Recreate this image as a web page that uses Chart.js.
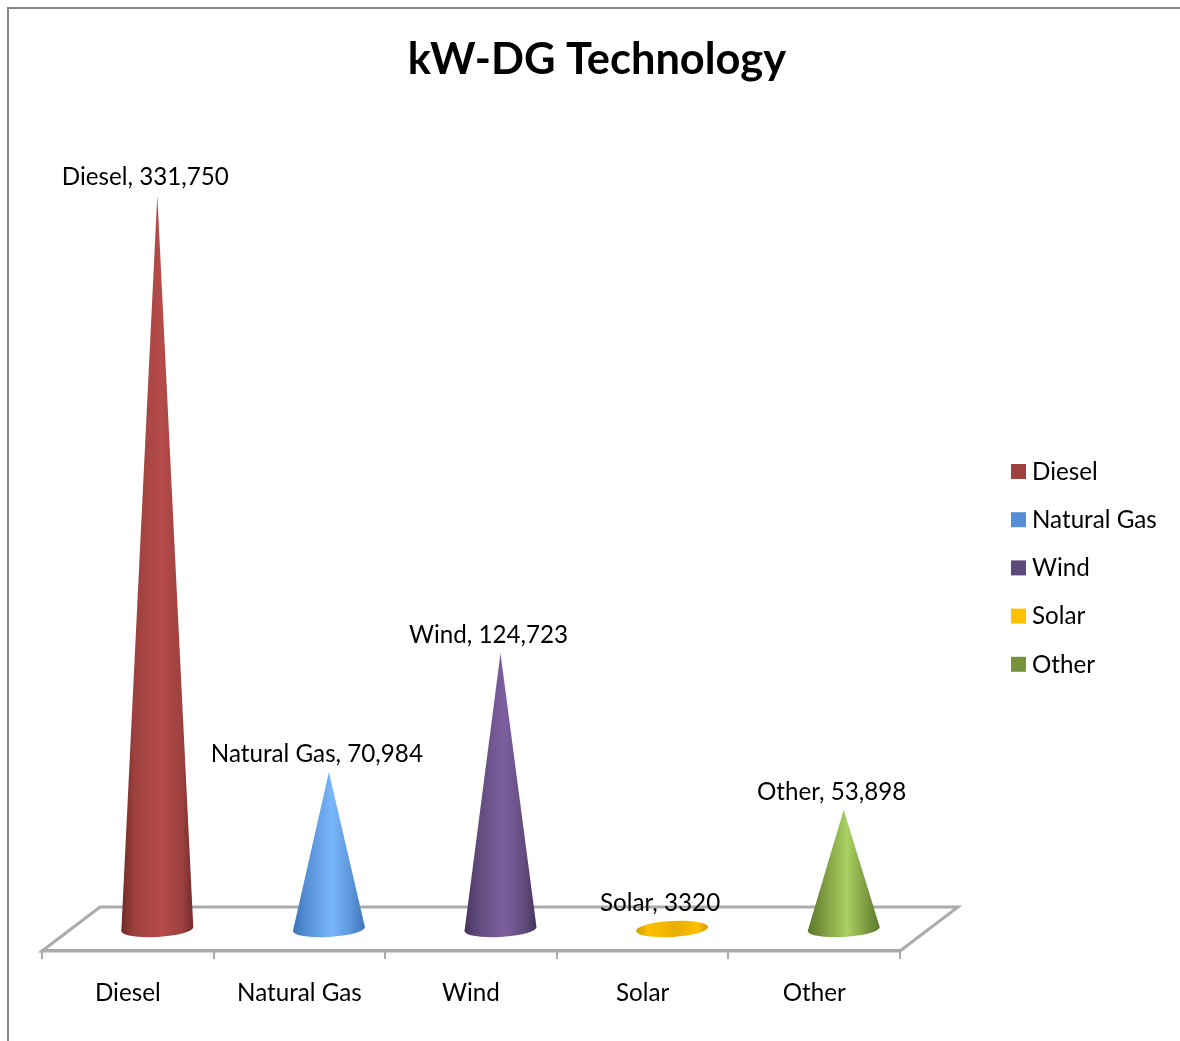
<!DOCTYPE html>
<html>
<head>
<meta charset="utf-8">
<style>html,body{margin:0;padding:0;background:#fff}canvas{display:block}</style>
<script src="https://cdn.jsdelivr.net/npm/chart.js@4"></script>
</head>
<body>
<canvas id="c" width="1180" height="1041"></canvas>
<script>
const chartTitle = 'kW-DG Technology';
const categories = ['Diesel', 'Natural Gas', 'Wind', 'Solar', 'Other'];
const kilowatts = [331750, 70984, 124723, 3320, 53898];
const valueLabels = ['331,750', '70,984', '124,723', '3320', '53,898'];
const legendColors = ['#9d403e', '#558ed5', '#604a7b', '#ffc000', '#77933c'];
const edgeColors = ['#6f2a28', '#3d74b8', '#46325f', '#d39c00', '#5a7a2a'];
const glowColors = ['#b54c49', '#7ab6fa', '#7d5f9f', '#e9ae00', '#a9d062'];

const FONT = 'Lato, Carlito, "Open Sans", sans-serif';
const DEPTH_X = 58, DEPTH_Y = 44;

class ConeElement extends Chart.BarElement {
  static id = 'cone';
  draw(ctx) {
    const {x, y, base, width} = this.getProps(['x', 'y', 'base', 'width']);
    const i = this.$context.dataIndex;
    const cx = x + DEPTH_X / 2 + 0.5, cy = base - DEPTH_Y / 2, top = y - DEPTH_Y / 2;
    const rx = width / 2, ry = 8, rot = -3.2 * Math.PI / 180;
    const g = ctx.createLinearGradient(cx - rx, 0, cx + rx, 0);
    g.addColorStop(0, edgeColors[i]);
    g.addColorStop(0.18, legendColors[i]);
    g.addColorStop(0.55, glowColors[i]);
    g.addColorStop(0.85, legendColors[i]);
    g.addColorStop(1, edgeColors[i]);
    ctx.save();
    ctx.fillStyle = g;
    ctx.beginPath();
    ctx.ellipse(cx, cy, rx, ry, rot, 0, Math.PI * 2);
    ctx.fill();
    if (cy - top > ry * 2) {
      const dx = rx * Math.cos(rot), dy = rx * Math.sin(rot);
      ctx.beginPath();
      ctx.moveTo(cx, top);
      ctx.lineTo(cx + dx, cy + dy);
      ctx.lineTo(cx - dx, cy - dy);
      ctx.closePath();
      ctx.fill();
    }
    ctx.restore();
  }
}
class ConeController extends Chart.BarController {
  static id = 'cone';
  static defaults = {dataElementType: 'cone'};
}
Chart.register(ConeElement, ConeController);

const scene = {
  id: 'scene',
  afterLayout(chart) {
    chart.titleBlock.left = 0;
    chart.titleBlock.right = 1194;
  },
  beforeDatasetsDraw(chart) {
    const {ctx, chartArea: a} = chart;
    ctx.save();
    ctx.strokeStyle = '#ababab';
    ctx.lineWidth = 3;
    ctx.lineJoin = 'miter';
    ctx.beginPath();
    ctx.moveTo(a.left, a.bottom);
    ctx.lineTo(a.left + DEPTH_X, a.bottom - DEPTH_Y);
    ctx.lineTo(a.right + DEPTH_X, a.bottom - DEPTH_Y);
    ctx.lineTo(a.right, a.bottom);
    ctx.closePath();
    ctx.stroke();
    ctx.restore();
  },
  beforeDraw(chart) {
    const {ctx} = chart;
    ctx.save();
    ctx.fillStyle = '#fff';
    ctx.fillRect(0, 0, chart.width, chart.height);
    ctx.strokeStyle = '#858585';
    ctx.lineWidth = 2;
    ctx.beginPath();
    ctx.moveTo(8, chart.height);
    ctx.lineTo(8, 8);
    ctx.lineTo(chart.width, 8);
    ctx.stroke();
    ctx.restore();
  },
  afterDraw(chart) {
    const {ctx} = chart;
    const meta = chart.getDatasetMeta(0);
    ctx.save();
    ctx.font = '24.2px ' + FONT;
    ctx.fillStyle = '#000';
    ctx.textBaseline = 'middle';
    ctx.textAlign = 'center';
    meta.data.forEach((el, i) => {
      ctx.fillText(categories[i] + ', ' + valueLabels[i],
        el.x + DEPTH_X / 2 - 11.5, el.y - DEPTH_Y / 2 - 18);
    });
    ctx.textAlign = 'left';
    categories.forEach((name, i) => {
      const y = 472 + i * 48.2;
      ctx.fillStyle = legendColors[i];
      ctx.fillRect(1011, y - 8, 15, 15);
      ctx.fillStyle = '#000';
      ctx.fillText(name, 1032, y);
    });
    ctx.restore();
  }
};

new Chart(document.getElementById('c'), {
  type: 'cone',
  plugins: [scene],
  data: {
    labels: categories,
    datasets: [{
      label: 'kW',
      data: kilowatts,
      backgroundColor: legendColors,
      categoryPercentage: 1,
      barPercentage: 0.42
    }]
  },
  options: {
    responsive: false,
    animation: false,
    devicePixelRatio: 1,
    layout: {padding: {left: 42, right: 280, top: 10, bottom: 13}},
    plugins: {
      legend: {display: false},
      tooltip: {enabled: false},
      title: {
        display: true,
        text: chartTitle,
        color: '#000',
        font: {family: FONT, size: 43.4, weight: 'bold', lineHeight: 1.2},
        padding: {top: 24, bottom: 14}
      }
    },
    scales: {
      x: {
        type: 'category',
        offset: true,
        grid: {display: true, offset: true, drawOnChartArea: false, drawTicks: true, tickLength: 8, color: '#ababab', lineWidth: 2},
        border: {display: true, color: '#ababab', width: 3},
        ticks: {color: '#000', padding: 20, font: {family: FONT, size: 24.2}, maxRotation: 0}
      },
      y: {type: 'linear', display: false, min: 0, max: 384770}
    }
  }
});
</script>
</body>
</html>
